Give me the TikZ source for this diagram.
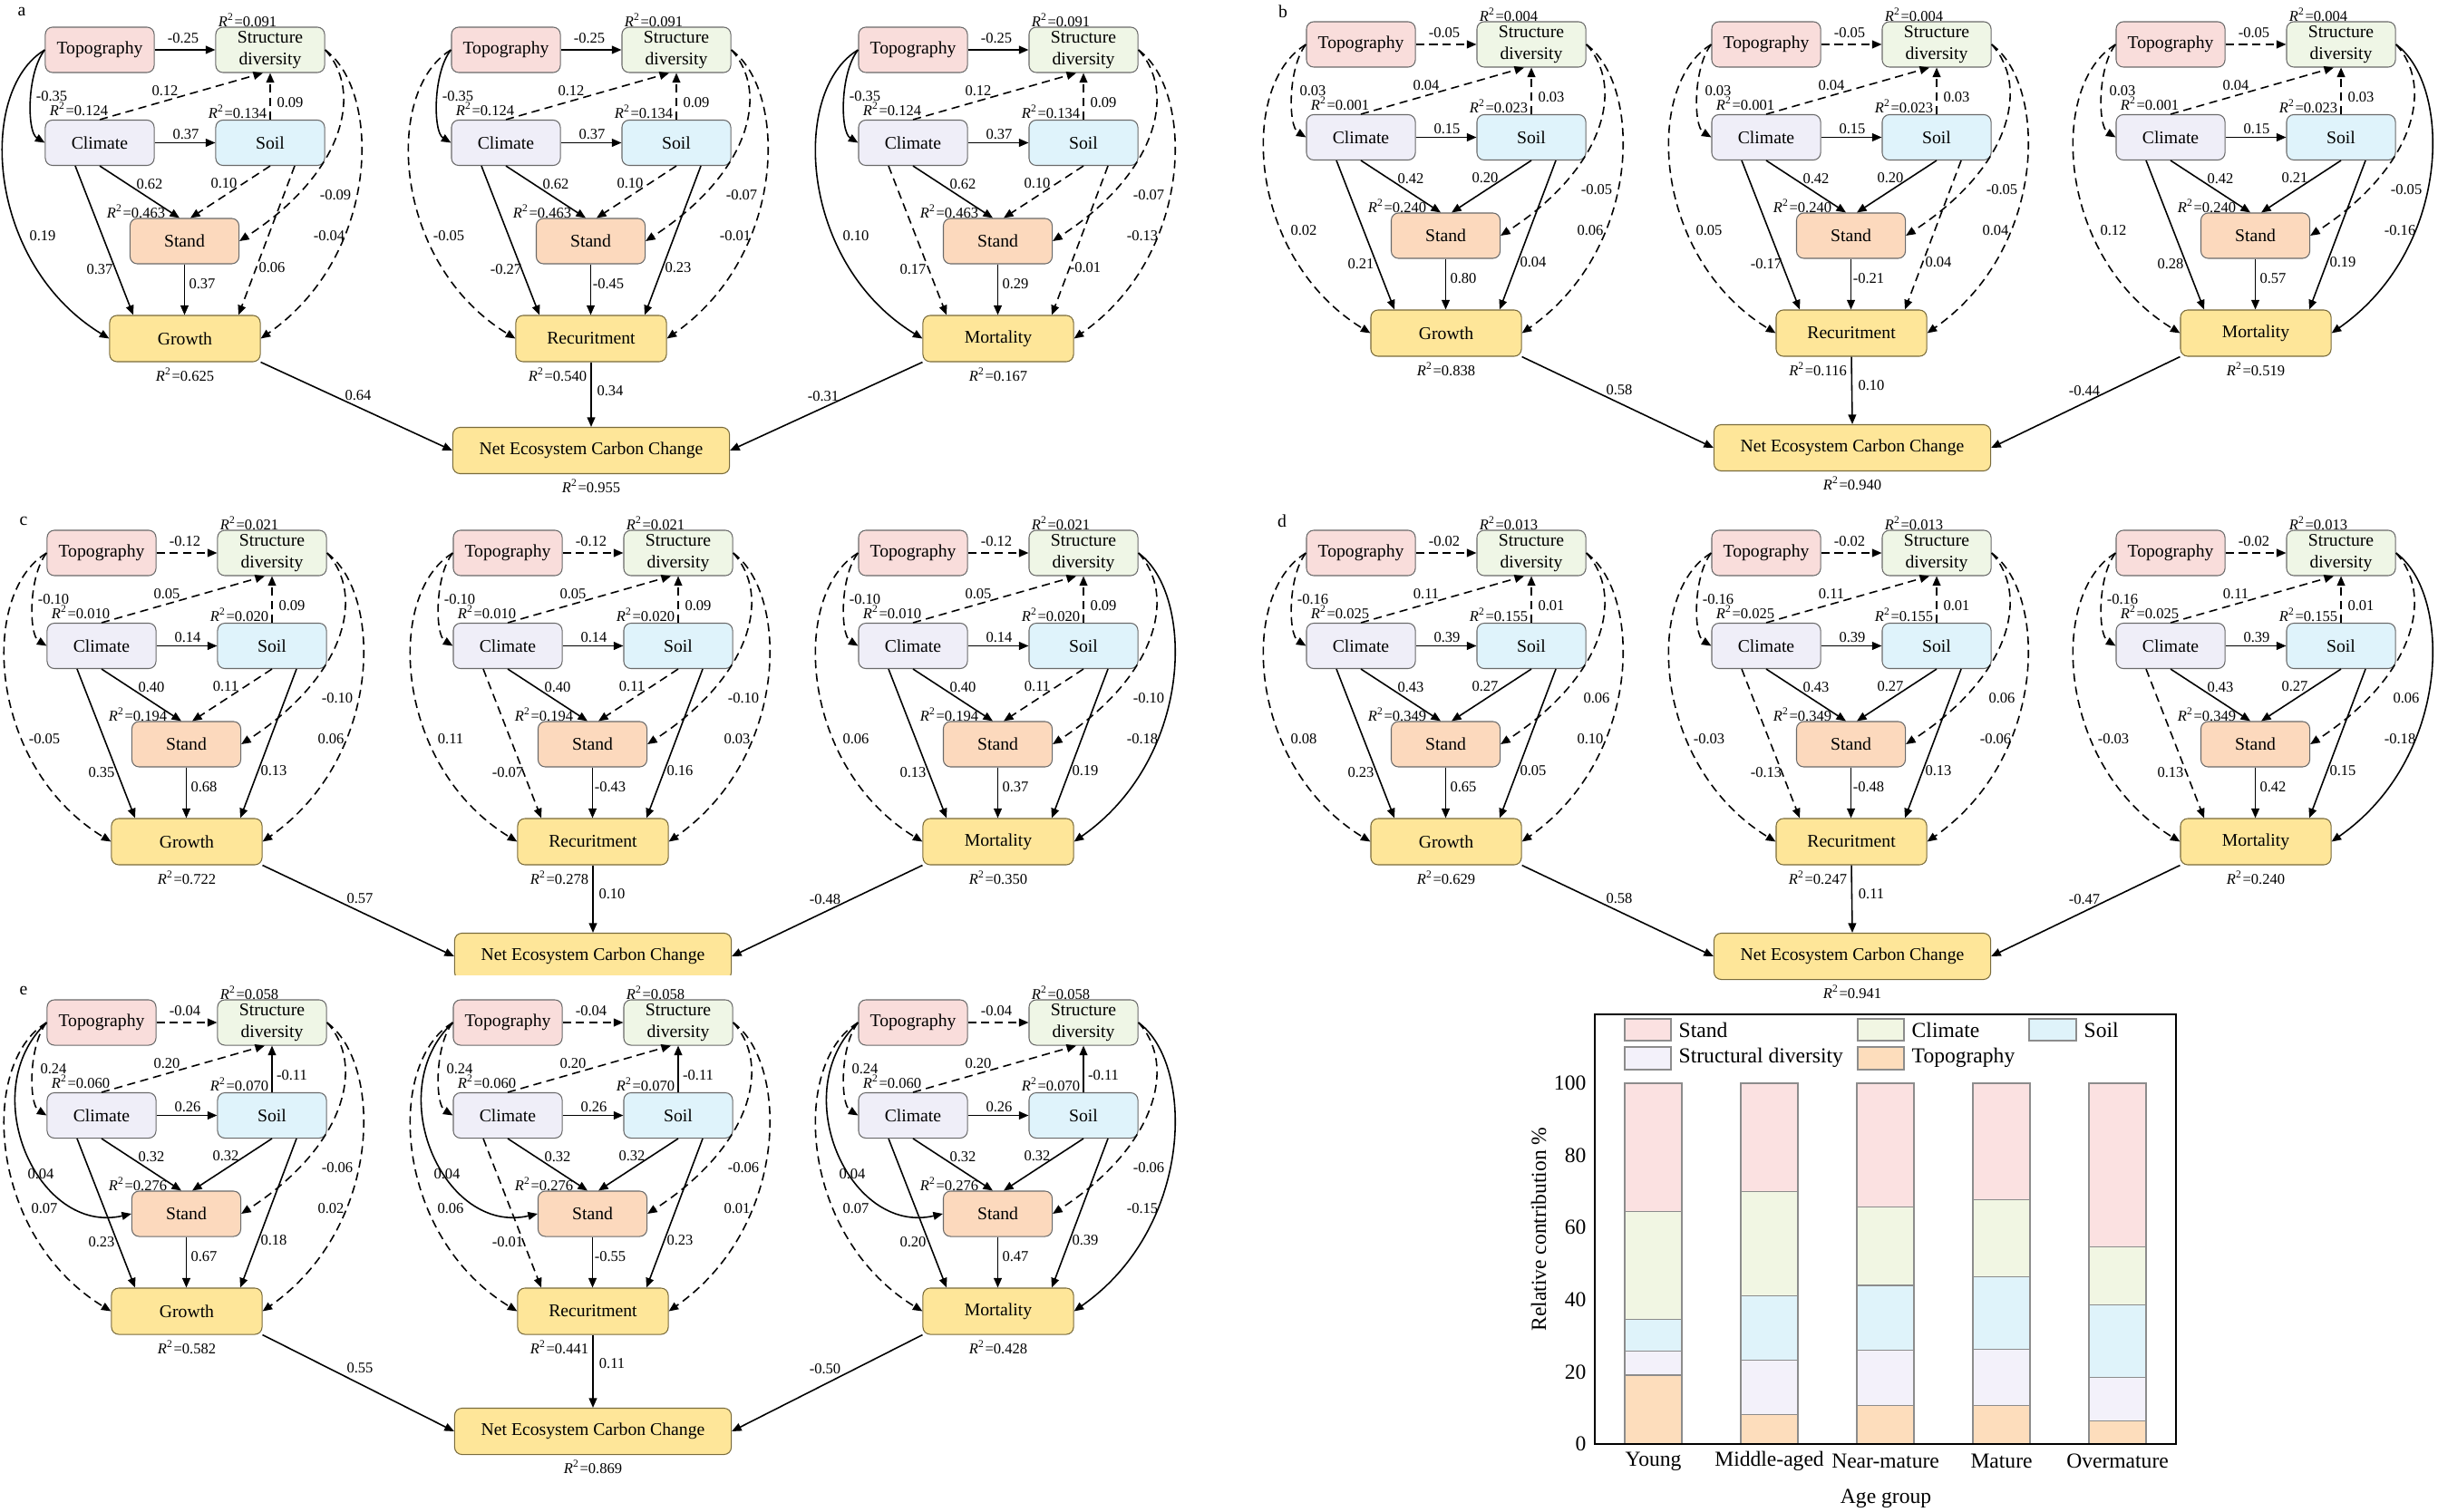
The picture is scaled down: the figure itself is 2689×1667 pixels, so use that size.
\documentclass[tikz,border=0pt]{standalone}
\usepackage{fontspec}
\setmainfont{Liberation Serif}
\usetikzlibrary{arrows.meta}
\definecolor{cT}{HTML}{F9DDDB}
\definecolor{cD}{HTML}{EFF6E6}
\definecolor{cC}{HTML}{EFEEF8}
\definecolor{cS}{HTML}{DFF3FB}
\definecolor{cN}{HTML}{FCD9BD}
\definecolor{cY}{HTML}{FEE699}
\definecolor{boxline}{HTML}{6B6B6B}
\definecolor{ybline}{HTML}{7A6C3C}
\definecolor{bStand}{HTML}{FBE1E1}
\definecolor{bClim}{HTML}{F1F6E3}
\definecolor{bSoil}{HTML}{DFF3FA}
\definecolor{bStruct}{HTML}{F3F1FA}
\definecolor{bTopo}{HTML}{FDDDBC}
\definecolor{barline}{HTML}{8C8C8C}
\tikzset{
  bx/.style={draw=boxline,line width=0.3pt,rounded corners=0.08cm,minimum width=1.2cm,minimum height=0.5cm,inner sep=0pt,align=center,font=\fontsize{5.6}{6.8}\selectfont},
  outbx/.style={bx,fill=cY,draw=ybline,minimum width=1.66cm,minimum height=0.51cm},
  neccbx/.style={outbx,minimum width=3.05cm},
  lab/.style={inner sep=0pt,font=\fontsize{4.7}{5.6}\selectfont},
  plab/.style={inner sep=0pt,font=\fontsize{5.6}{6.8}\selectfont},
  es/.style={line width=0.45pt,-{Triangle[length=3pt,width=2.5pt]}},
  ed/.style={es,dash pattern=on 2.6pt off 1.6pt},
  ctext/.style={inner sep=0pt,font=\fontsize{6.7}{8}\selectfont},
  barseg/.style={draw=barline,line width=0.35pt},
}
\newcommand\semR[1]{\textit{R}\textsuperscript{2}=#1}
\def\semparseR#1/#2/#3/#4/#5\relax{\def\semRD{#1}\def\semRC{#2}\def\semRS{#3}\def\semRN{#4}\def\semRO{#5}}
\newcommand\semedraw[1]{\if\st d\draw[ed] #1;\else\draw[es] #1;\fi}
% edge types
\def\semETS{\semedraw{(\pfx T.east) -- (\pfx D.west)}\node[lab] (\pfx L\e) at (202,42) {\lab};}
\def\semETC{\semedraw{(\pfx T.west) .. controls +(-20,25) and +(-20,-12) .. (\pfx C.west)}\node[lab] (\pfx L\e) at (57,106) {\lab};}
\def\semECD{\semedraw{(\pfx C.north) -- ([xshift=-0.08cm]\pfx D.south)}\node[lab] (\pfx L\e) at (182,100) {\lab};}
\def\semESD{\semedraw{(\pfx S.north) -- (\pfx D.south)}\node[lab] (\pfx L\e) at (320,113) {\lab};}
\def\semECS{\semedraw{(\pfx C.east) -- (\pfx S.west)}\node[lab] (\pfx L\e) at (205,148) {\lab};}
\def\semECN{\semedraw{(\pfx C.south) -- ([xshift=-0.055cm]\pfx N.north)}\node[lab] (\pfx L\e) at (165,203) {\lab};}
\def\semESN{\semedraw{(\pfx S.south) -- ([xshift=0.065cm]\pfx N.north)}\node[lab] (\pfx L\e) at (247,202) {\lab};}
\def\semEDN{\semedraw{(\pfx D.east) .. controls +(42,45) and +(117,-76) .. (\pfx N.east)}\node[lab] (\pfx L\e) at (370,215) {\lab};}
\def\semEDO{\semedraw{(\pfx D.east) .. controls +(62,45) and +(133,-93) .. (\pfx O.east)}\node[lab] (\pfx L\e) at (363,260) {\lab};}
\def\semETO{\semedraw{(\pfx T.west) .. controls +(-75,45) and +(-136,-83) .. (\pfx O.west)}\node[lab] (\pfx L\e) at (47,260) {\lab};}
\def\semECO{\semedraw{([xshift=-0.27cm]\pfx C.south) -- ([xshift=-0.57cm]\pfx O.north)}\node[lab] (\pfx L\e) at (110,297) {\lab};}
\def\semENO{\semedraw{(\pfx N.south) -- (\pfx N.south|-\pfx O.north)}\node[lab] (\pfx L\e) at (223,313) {\lab};}
\def\semESO{\semedraw{([xshift=0.27cm]\pfx S.south) -- ([xshift=0.59cm]\pfx O.north)}\node[lab] (\pfx L\e) at (300,295) {\lab};}
\def\semETN{\semedraw{(\pfx T.west) .. controls +(-80,75) and +(-104,24) .. (\pfx N.west)}\node[lab] (\pfx L\e) at (43,222) {\lab};}
% one structural model
\newcommand\submodel[8]{%
  \def\pfx{#1}\semparseR#5\relax
  \begin{scope}[shift={(#2,#3)}]
    \node[bx,fill=cT] (#1T) at (110,55) {Topography};
    \node[bx,fill=cD] (#1D) at (298,55) {Structure\\diversity};
    \node[bx,fill=cC] (#1C) at (110,157.5) {Climate};
    \node[bx,fill=cS] (#1S) at (298,157.5) {Soil};
    \node[bx,fill=cN] (#1N) at (203.5,266) {Stand};
    \node[outbx] (#1O) at (204,373.5) {#4};
    \node[lab] (#1RD) at (273,22) {\semR{\semRD}};
    \node[lab] (#1RC) at (87,120) {\semR{\semRC}};
    \node[lab] (#1RS) at (262,123) {\semR{\semRS}};
    \node[lab] (#1RN) at (150,233) {\semR{\semRN}};
    \node[lab] (#1RO) at (#6,413) {\semR{\semRO}};
    \foreach \e/\st/\lab in #7 {\csname semE\e\endcsname}
    \foreach \e/\st/\lab in {#8} {\csname semE\e\endcsname}
  \end{scope}}
% net ecosystem carbon change box of one panel
\newcommand\necc[7]{%
  \node[neccbx] (#1E) at (#2+652,#3+#4) {Net Ecosystem Carbon Change};
  \draw[es] (#11O.south east) -- (#1E.west);
  \draw[es] (#12O.south) -- (#1E.north);
  \draw[es] (#13O.south west) -- (#1E.east);
  \node[lab] (#1EL) at (#2+395,#3+436) {#5};
  \node[lab] (#1EM) at (#2+673,#3+431) {#6};
  \node[lab] (#1EN) at (#2+908,#3+437) {#7};}
% stacked bar
\newcommand\stackbar[5]{%
  \path[barseg,fill=bTopo] (#1-31.5,1593) rectangle (#1+31.5,1593-#2*3.98);
  \path[barseg,fill=bStruct] (#1-31.5,1593-#2*3.98) rectangle (#1+31.5,1593-#3*3.98);
  \path[barseg,fill=bSoil] (#1-31.5,1593-#3*3.98) rectangle (#1+31.5,1593-#4*3.98);
  \path[barseg,fill=bClim] (#1-31.5,1593-#4*3.98) rectangle (#1+31.5,1593-#5*3.98);
  \path[barseg,fill=bStand] (#1-31.5,1593-#5*3.98) rectangle (#1+31.5,1195);}
\def\acom{TS/s/-0.25,TC/s/-0.35,CD/d/0.12,SD/d/0.09,CS/s/0.37,CN/s/0.62,SN/d/0.10}
\def\bcom{TS/d/-0.05,TC/d/0.03,CD/d/0.04,SD/d/0.03,CS/s/0.15,CN/s/0.42}
\def\ccom{TS/d/-0.12,TC/d/-0.10,CD/d/0.05,SD/d/0.09,CS/s/0.14,CN/s/0.40,SN/d/0.11,DN/d/-0.10}
\def\dcom{TS/d/-0.02,TC/d/-0.16,CD/d/0.11,SD/d/0.01,CS/s/0.39,CN/s/0.43,SN/s/0.27,DN/d/0.06}
\def\ecom{TS/d/-0.04,TC/d/0.24,CD/d/0.20,SD/s/-0.11,CS/s/0.26,CN/s/0.32,SN/s/0.32,DN/d/-0.06,TN/s/0.04}
\begin{document}
\begin{tikzpicture}[x=0.01cm,y=-0.01cm]
\useasboundingbox (0,0) rectangle (2689,1667);
\fill[white] (0,0) rectangle (2689,1667);
% panel a
\node[plab] (pa) at (24,13) {a};
\submodel{a1}{0}{0}{Growth}{0.091/0.124/0.134/0.463/0.625}{204}{\acom}{DN/d/-0.09,TO/s/0.19,CO/s/0.37,NO/s/0.37,SO/d/0.06,DO/d/-0.04}
\submodel{a2}{448}{0}{Recuritment}{0.091/0.124/0.134/0.463/0.540}{167}{\acom}{DN/d/-0.07,TO/d/-0.05,CO/s/-0.27,NO/s/-0.45,SO/s/0.23,DO/d/-0.01}
\submodel{a3}{897}{0}{Mortality}{0.091/0.124/0.134/0.463/0.167}{204}{\acom}{DN/d/-0.07,TO/s/0.10,CO/d/0.17,NO/s/0.29,SO/d/-0.01,DO/d/-0.13}
\necc{a}{0}{0}{497}{0.64}{0.34}{-0.31}
\node[lab] (aR2) at (652,536) {\semR{0.955}};
% panel b
\node[plab] (pb) at (1415,13) {b};
\submodel{b1}{1391}{-6}{Growth}{0.004/0.001/0.023/0.240/0.838}{204}{\bcom}{SN/s/0.20,DN/d/-0.05,TO/d/0.02,CO/s/0.21,NO/s/0.80,SO/s/0.04,DO/d/0.06}
\submodel{b2}{1838}{-6}{Recuritment}{0.004/0.001/0.023/0.240/0.116}{167}{\bcom}{SN/s/0.20,DN/d/-0.05,TO/d/0.05,CO/s/-0.17,NO/s/-0.21,SO/d/0.04,DO/d/0.04}
\submodel{b3}{2284}{-6}{Mortality}{0.004/0.001/0.023/0.240/0.519}{204}{\bcom}{SN/s/0.21,DN/d/-0.05,TO/d/0.12,CO/s/0.28,NO/s/0.57,SO/s/0.19,DO/s/-0.16}
\necc{b}{1391}{-6}{500}{0.58}{0.10}{-0.44}
\node[lab] (bR2) at (2043,533) {\semR{0.940}};
% panel c
\node[plab] (pc) at (26,575) {c};
\submodel{c1}{2}{555}{Growth}{0.021/0.010/0.020/0.194/0.722}{204}{\ccom}{TO/d/-0.05,CO/s/0.35,NO/s/0.68,SO/s/0.13,DO/d/0.06}
\submodel{c2}{450}{555}{Recuritment}{0.021/0.010/0.020/0.194/0.278}{167}{\ccom}{TO/d/0.11,CO/d/-0.07,NO/s/-0.43,SO/s/0.16,DO/d/0.03}
\submodel{c3}{897}{555}{Mortality}{0.021/0.010/0.020/0.194/0.350}{204}{\ccom}{TO/d/0.06,CO/s/0.13,NO/s/0.37,SO/s/0.19,DO/s/-0.18}
\necc{c}{2}{555}{500}{0.57}{0.10}{-0.48}
% panel d
\node[plab] (pd) at (1414,575) {d};
\submodel{d1}{1391}{555}{Growth}{0.013/0.025/0.155/0.349/0.629}{204}{\dcom}{TO/d/0.08,CO/s/0.23,NO/s/0.65,SO/s/0.05,DO/d/0.10}
\submodel{d2}{1838}{555}{Recuritment}{0.013/0.025/0.155/0.349/0.247}{167}{\dcom}{TO/d/-0.03,CO/d/-0.13,NO/s/-0.48,SO/s/0.13,DO/d/-0.06}
\submodel{d3}{2284}{555}{Mortality}{0.013/0.025/0.155/0.349/0.240}{204}{\dcom}{TO/d/-0.03,CO/d/0.13,NO/s/0.42,SO/s/0.15,DO/s/-0.18}
\necc{d}{1391}{555}{500}{0.58}{0.11}{-0.47}
\node[lab] (dR2) at (2043,1094) {\semR{0.941}};
% panel e (covers the lower edge of panel c)
\fill[white] (0,1076) rectangle (1370,1667);
\node[plab] (pe) at (26,1093) {e};
\submodel{e1}{2}{1073}{Growth}{0.058/0.060/0.070/0.276/0.582}{204}{\ecom}{TO/d/0.07,CO/s/0.23,NO/s/0.67,SO/s/0.18,DO/d/0.02}
\submodel{e2}{450}{1073}{Recuritment}{0.058/0.060/0.070/0.276/0.441}{167}{\ecom}{TO/d/0.06,CO/d/-0.01,NO/s/-0.55,SO/s/0.23,DO/d/0.01}
\submodel{e3}{897}{1073}{Mortality}{0.058/0.060/0.070/0.276/0.428}{204}{\ecom}{TO/d/0.07,CO/s/0.20,NO/s/0.47,SO/s/0.39,DO/s/-0.15}
\necc{e}{2}{1073}{506}{0.55}{0.11}{-0.50}
\node[lab] (eR2) at (654,1618) {\semR{0.869}};
% bar chart
\stackbar{1823.5}{19.1}{25.8}{34.5}{64.4}
\stackbar{1951.5}{8.2}{23.3}{41.0}{69.9}
\stackbar{2079.5}{10.7}{26.0}{44.0}{65.8}
\stackbar{2207.5}{10.6}{26.2}{46.3}{67.8}
\stackbar{2335.5}{6.5}{18.5}{38.6}{54.7}
\draw[line width=0.55pt] (1759,1119) rectangle (2400,1593);
\foreach \v in {0,20,40,60,80,100} {\node[ctext,anchor=east] (yt\v) at (1750,1593-\v*3.98) {\v};}
\node[ctext] (xl1) at (1823.5,1612) {Young};
\node[ctext] (xl2) at (1951.5,1612) {Middle-aged};
\node[ctext] (xl3) at (2079.5,1612) {Near-mature};
\node[ctext] (xl4) at (2207.5,1612) {Mature};
\node[ctext] (xl5) at (2335.5,1612) {Overmature};
\node[ctext] (xtitle) at (2080,1653) {Age group};
\node[ctext,rotate=90] (ytitle) at (1697,1356) {Relative contribution \%};
% legend
\path[barseg,fill=bStand] (1792,1124) rectangle (1843,1148);
\node[ctext,anchor=west] (lg1) at (1851,1136) {Stand};
\path[barseg,fill=bClim] (2049,1124) rectangle (2100,1148);
\node[ctext,anchor=west] (lg2) at (2108,1136) {Climate};
\path[barseg,fill=bSoil] (2238,1124) rectangle (2290,1148);
\node[ctext,anchor=west] (lg3) at (2298,1136) {Soil};
\path[barseg,fill=bStruct] (1792,1155) rectangle (1843,1180);
\node[ctext,anchor=west] (lg4) at (1851,1167) {Structural diversity};
\path[barseg,fill=bTopo] (2049,1155) rectangle (2100,1180);
\node[ctext,anchor=west] (lg5) at (2108,1167) {Topography};
\end{tikzpicture}
\end{document}
